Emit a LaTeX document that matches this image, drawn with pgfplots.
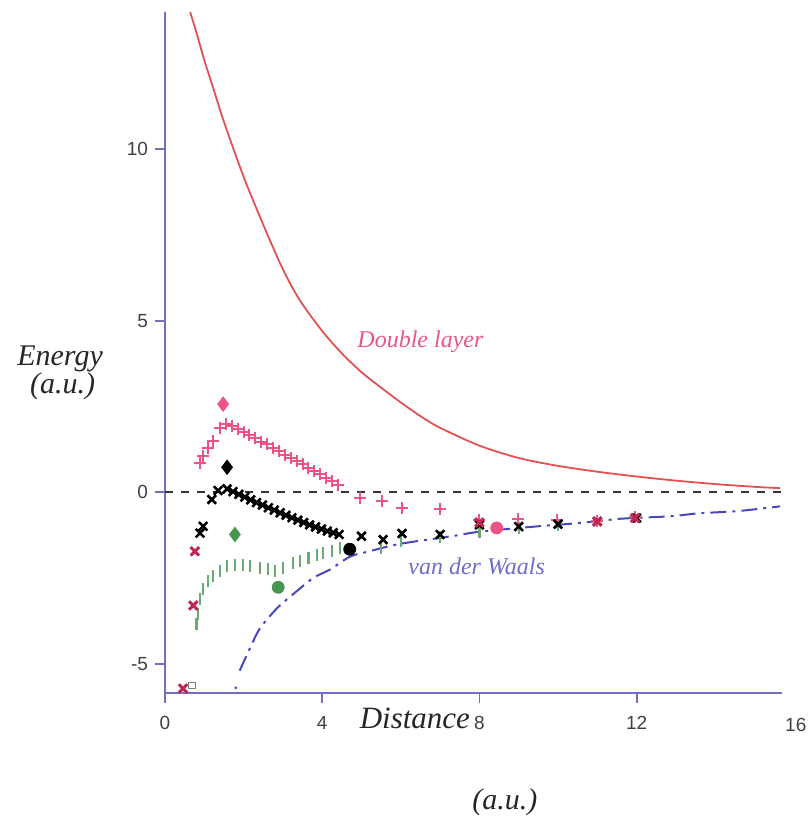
\documentclass[border=0pt]{standalone}
\usepackage{pgfplots}
\pgfplotsset{compat=1.18}
\usepackage{fontspec}
\setmainfont{Liberation Serif}
\newfontfamily\sansf{Liberation Sans}
\definecolor{axblue}{RGB}{112,112,190}
\definecolor{dlred}{RGB}{226,82,82}
\definecolor{pinkp}{RGB}{236,84,132}
\definecolor{crim}{RGB}{192,40,82}
\definecolor{grn}{RGB}{70,150,80}
\definecolor{vdw}{RGB}{72,72,190}
\begin{document}
\begin{tikzpicture}
\begin{axis}[
  scale only axis, width=308.5pt, height=340.5pt,
  xmin=0, xmax=15.7, ymin=-5.85, ymax=14,
  axis lines*=left,
  axis line style={axblue, line width=0.9pt},
  xtick={0,4,8,12}, ytick={-5,0,5,10},
  tick align=outside, major tick length=5pt,
  tick style={axblue, line width=0.9pt},
  /pgf/number format/assume math mode=true,
  ticklabel style={font=\sansf\fontsize{9.5}{10}\selectfont, text=black!75},
  xticklabel style={yshift=-3pt},
  clip=false,
]
% zero line
\addplot[black!80, line width=0.8pt, dash pattern=on 4pt off 4pt] coordinates {(0,0) (15.7,0)};
% double layer
\addplot[dlred, line width=0.9pt, smooth] coordinates {
(0.64,14) (0.8,13.4) (1.0,12.6) (1.25,11.7) (1.5,10.8) (2,9.2) (2.5,7.8) (3,6.5) (3.43,5.6)
(4,4.7) (4.5,4.05) (5,3.5) (5.5,3.05) (6,2.62) (6.5,2.22) (7,1.88) (8,1.36) (9,1.0) (10,0.77)
(11,0.6) (12,0.46) (13,0.34) (14,0.24) (15,0.16) (15.65,0.12)};
% van der Waals
\addplot[vdw, line width=1pt, smooth, dash pattern=on 8pt off 3pt on 1.5pt off 3pt] coordinates {
(1.9,-5.2) (2.16,-4.55) (2.42,-3.96) (2.85,-3.38) (3.26,-2.97) (3.77,-2.5) (4.2,-2.25)
(4.7,-1.88) (5.13,-1.74) (6.0,-1.5) (7.3,-1.28) (8,-1.15) (9.4,-1.0) (10.5,-0.9)
(11.6,-0.77) (12.85,-0.7) (13.6,-0.61) (14.55,-0.55) (15.65,-0.41)};
\addplot[vdw, only marks, mark=*, mark size=0.5pt] coordinates {(1.8,-5.7)};
% green bars
\addplot[grn!80, only marks, mark=|, mark size=3pt, mark options={line width=1.1pt}] coordinates {
(0.8,-3.85) (0.83,-3.55) (0.9,-3.1) (0.97,-2.83) (1.1,-2.6) (1.22,-2.45)
(1.40,-2.30) (1.57,-2.16) (1.78,-2.11) (1.99,-2.11) (2.16,-2.16) (2.42,-2.21) (2.63,-2.25)
(2.80,-2.30) (3.01,-2.21) (3.26,-2.06) (3.43,-2.01) (3.65,-1.92) (3.86,-1.82) (4.03,-1.77)
(4.24,-1.72) (4.45,-1.62) (5.5,-1.62) (6.0,-1.43) (7.0,-1.3) (8.0,-1.15) (9,-1.05) (10,-0.95)};
% pink plus
\addplot[pinkp, only marks, mark=+, mark size=3pt, mark options={line width=1pt}] coordinates {
(0.89,0.85) (0.97,1.05) (1.1,1.3) (1.22,1.49) (1.40,1.87)
(1.55,1.98) (1.70,1.92) (1.85,1.85) (2.00,1.75) (2.15,1.66) (2.30,1.58) (2.45,1.48)
(2.60,1.40) (2.75,1.30) (2.90,1.20) (3.05,1.10) (3.20,1.00) (3.35,0.92) (3.50,0.82)
(3.65,0.72) (3.80,0.63) (3.95,0.53) (4.10,0.42) (4.25,0.33) (4.40,0.22)
(4.96,-0.17) (5.52,-0.26) (6.03,-0.47) (7.0,-0.5) (8.0,-0.8) (8.98,-0.78) (9.97,-0.8)
(11.0,-0.83) (11.96,-0.72)};
% black x
\addplot[black, only marks, mark=x, mark size=3pt, mark options={line width=1.3pt}] coordinates {
(0.89,-1.19) (0.97,-0.99) (1.19,-0.21) (1.35,0.05)
(1.58,0.10) (1.73,0.02) (1.88,-0.06) (2.03,-0.14) (2.18,-0.22) (2.33,-0.30) (2.48,-0.37)
(2.63,-0.45) (2.78,-0.52) (2.93,-0.60) (3.08,-0.67) (3.23,-0.74) (3.38,-0.81) (3.53,-0.88)
(3.68,-0.95) (3.83,-1.01) (3.98,-1.07) (4.13,-1.13) (4.28,-1.18) (4.43,-1.23)
(5.0,-1.28) (5.55,-1.38) (6.03,-1.2) (7.0,-1.23) (8.0,-0.95) (9.0,-1.0) (10.0,-0.93)
(11,-0.85) (12,-0.75)};
% crimson x
\addplot[crim, only marks, mark=x, mark size=3pt, mark options={line width=1.5pt}] coordinates {
(0.46,-5.72) (0.72,-3.3) (0.76,-1.72) (8.0,-0.88) (11.0,-0.85) (11.96,-0.75)};
\addplot[black!50, only marks, mark=square, mark size=1.6pt] coordinates {(0.68,-5.62)};
% diamonds
\addplot[pinkp, only marks, mark=diamond*, mark size=3.6pt] coordinates {(1.48,2.57)};
\addplot[black, only marks, mark=diamond*, mark size=3.6pt] coordinates {(1.58,0.73)};
\addplot[grn, only marks, mark=diamond*, mark size=3.6pt] coordinates {(1.78,-1.23)};
% circles
\addplot[black, only marks, mark=*, mark size=3pt] coordinates {(4.7,-1.66)};
\addplot[grn, only marks, mark=*, mark size=3pt] coordinates {(2.88,-2.77)};
\addplot[pinkp, only marks, mark=*, mark size=3pt] coordinates {(8.44,-1.04)};
% labels
\node[text=pinkp, font=\itshape\fontsize{12}{12}\selectfont] at (axis cs:6.5,4.4) {Double layer};
\node[text=vdw!80, font=\itshape\fontsize{12}{12}\selectfont] at (axis cs:7.93,-2.16) {van der Waals};
\node[font=\sansf\fontsize{9.5}{10}\selectfont, text=black!75] at (axis cs:16.05,-5.85) [yshift=-16pt] {16};
\node[font=\itshape\fontsize{15}{15}\selectfont, text=black!85] at (rel axis cs:-0.170,0.491) {Energy};
\node[font=\itshape\fontsize{15}{15}\selectfont, text=black!85] at (rel axis cs:-0.166,0.450) {(a.u.)};
\node[font=\itshape\fontsize{15.5}{15.5}\selectfont, text=black!85] at (rel axis cs:0.405,-0.037) {Distance};
\node[font=\itshape\fontsize{15}{15}\selectfont, text=black!85] at (rel axis cs:0.551,-0.160) {(a.u.)};
\end{axis}
\pgfresetboundingbox
\path (-82.5pt,-64.5pt) rectangle (321pt,346.5pt);
\end{tikzpicture}
\end{document}
